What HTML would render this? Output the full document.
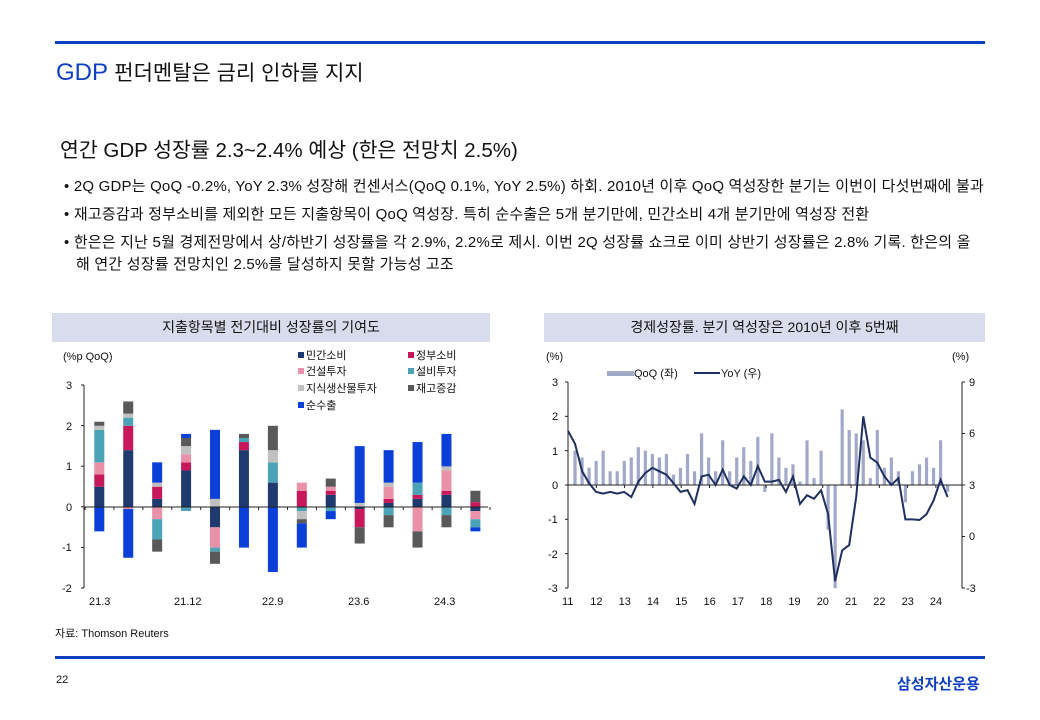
<!DOCTYPE html>
<html><head><meta charset="utf-8"><style>
body{margin:0;width:1040px;height:720px;background:#fff;font-family:"Liberation Sans","Noto Sans CJK KR",sans-serif;position:relative;overflow:hidden;color:#111}
.a{position:absolute;white-space:nowrap}
.hl{position:absolute;left:55px;width:930px;height:3px;background:#1040c0}
.b{font-size:15px;letter-spacing:0.2px}
.ct{position:absolute;top:313px;height:29px;background:#d9dcec;font-size:14px;line-height:29px;text-align:center}
svg text{font-family:"Liberation Sans","Noto Sans CJK KR",sans-serif;font-size:11px;fill:#111}
</style></head><body>
<div class="hl" style="top:41px"></div>
<div class="a" style="left:56px;top:57px;font-size:24px;color:#1040c0">GDP <span style="color:#111;font-size:21px">펀더멘탈은 금리 인하를 지지</span></div>
<div class="a" style="left:60px;top:133px;font-size:20.5px">연간 GDP 성장률 2.3~2.4% 예상 (한은 전망치 2.5%)</div>
<div class="a b" style="left:64px;top:175px">• 2Q GDP는 QoQ -0.2%, YoY 2.3% 성장해 컨센서스(QoQ 0.1%, YoY 2.5%) 하회. 2010년 이후 QoQ 역성장한 분기는 이번이 다섯번째에 불과</div>
<div class="a b" style="left:64px;top:203px">• 재고증감과 정부소비를 제외한 모든 지출항목이 QoQ 역성장. 특히 순수출은 5개 분기만에, 민간소비 4개 분기만에  역성장 전환</div>
<div class="a b" style="left:64px;top:231px">• 한은은 지난 5월 경제전망에서 상/하반기 성장률을 각 2.9%, 2.2%로 제시. 이번 2Q 성장률 쇼크로 이미 상반기 성장률은 2.8% 기록. 한은의 올</div>
<div class="a b" style="left:76px;top:253px">해 연간 성장률 전망치인 2.5%를 달성하지 못할 가능성 고조</div>
<div class="ct" style="left:52px;width:438px">지출항목별 전기대비 성장률의 기여도</div>
<div class="ct" style="left:544px;width:441px">경제성장률. 분기 역성장은 2010년 이후 5번째</div>
<svg id="s" class="a" style="left:0;top:0" width="1040" height="720">
<g id="L"></g><g id="R"></g>
<text x="63" y="360">(%p QoQ)</text>
<text x="66" y="389">3</text><text x="66" y="430">2</text><text x="66" y="470">1</text><text x="66" y="511">0</text><text x="62" y="551">-1</text><text x="62" y="592">-2</text>
<text x="89" y="605">21.3</text><text x="174" y="605">21.12</text><text x="262" y="605">22.9</text><text x="348" y="605">23.6</text><text x="434" y="605">24.3</text>
<rect x="298" y="352" width="6" height="6" fill="#1f3a6e"/><text x="306" y="359">민간소비</text>
<rect x="408" y="352" width="6" height="6" fill="#c8185c"/><text x="416" y="359">정부소비</text>
<rect x="298" y="368" width="6" height="6" fill="#e891a8"/><text x="306" y="375">건설투자</text>
<rect x="408" y="368" width="6" height="6" fill="#4ba3b8"/><text x="416" y="375">설비투자</text>
<rect x="298" y="385" width="6" height="6" fill="#c0c0c0"/><text x="306" y="392">지식생산물투자</text>
<rect x="408" y="385" width="6" height="6" fill="#595959"/><text x="416" y="392">재고증감</text>
<rect x="298" y="402" width="6" height="6" fill="#0a3fd8"/><text x="306" y="409">순수출</text>
<text x="546" y="360">(%)</text><text x="952" y="360">(%)</text>
<rect x="607" y="371" width="27" height="5" fill="#a2a9c8"/><text x="634" y="377">QoQ (좌)</text>
<line x1="694" y1="373" x2="720" y2="373" stroke="#1f3060" stroke-width="2"/><text x="721" y="377">YoY (우)</text>
<text x="552" y="386">3</text><text x="552" y="420">2</text><text x="552" y="455">1</text><text x="552" y="489">0</text><text x="548" y="523">-1</text><text x="548" y="558">-2</text><text x="548" y="592">-3</text>
<text x="969" y="386">9</text><text x="969" y="437">6</text><text x="969" y="489">3</text><text x="969" y="540">0</text><text x="966" y="592">-3</text>
<g id="XL"></g>
</svg>
<div class="a" style="left:55px;top:625px;font-size:11px">자료: Thomson Reuters</div>
<div class="hl" style="top:656px"></div>
<div class="a" style="left:56px;top:674px;font-size:11px">22</div>
<div class="a" style="left:897px;top:673px;font-size:15px;font-weight:bold;color:#1040c0">삼성자산운용</div>
<script>
var ns="http://www.w3.org/2000/svg";
function el(p,t,a){var e=document.createElementNS(ns,t);for(var k in a)e.setAttribute(k,a[k]);p.appendChild(e);return e;}
var L=document.getElementById('L'),R=document.getElementById('R'),XL=document.getElementById('XL');
var col=['#1f3a6e','#c8185c','#e891a8','#4ba3b8','#c0c0c0','#595959','#0a3fd8'];
var D=[[.5,.3,.3,.8,.1,.1,-.6],[1.4,.6,-.05,.2,.1,.3,-1.2],[.2,.3,-.3,-.5,.1,-.3,.5],[.9,.2,.2,-.1,.2,.2,.1],[-.5,0,-.5,-.1,.2,-.3,1.7],[1.4,.2,0,.1,0,.1,-1],[.6,0,0,.5,.3,.6,-1.6],[0,.4,.2,-.1,-.2,-.1,-.6],[.3,.1,.1,-.1,0,.2,-.2],[-.05,-.45,0,0,.1,-.4,1.4],[.1,.1,.3,-.2,.1,-.3,.8],[.2,.1,-.6,.3,0,-.4,1],[.3,.1,.5,-.2,.1,-.3,.8],[-.1,.12,-.2,-.2,0,.28,-.1]];
var u=40.6,z=507;
D.forEach(function(d,i){var x=99.3+28.93*i,p=0,n=0;d.forEach(function(v,k){if(!v)return;if(v>0){el(L,'rect',{x:x-5,y:z-(p+v)*u,width:10,height:v*u,fill:col[k]});p+=v;}else{el(L,'rect',{x:x-5,y:z-n*u,width:10,height:-v*u,fill:col[k]});n+=v;}});});
el(L,'line',{x1:84,y1:385,x2:84,y2:588,stroke:'#222'});
for(var j=0;j<6;j++)el(L,'line',{x1:81,y1:385+j*40.6,x2:84,y2:385+j*40.6,stroke:'#222'});
el(L,'line',{x1:84,y1:z,x2:488,y2:z,stroke:'#222'});
for(var j=0;j<=14;j++)el(L,'line',{x1:85+28.93*j,y1:z,x2:85+28.93*j,y2:z+3,stroke:'#222'});
var Q=[1.0,.8,.5,.7,1.0,.4,.4,.7,.8,1.1,1.0,.9,.8,.9,.3,.5,.9,.4,1.5,.8,.4,1.3,.4,.8,1.1,.7,1.4,-.2,1.5,.8,.5,.6,.1,1.3,.2,1.0,-1.3,-3.0,2.2,1.6,1.5,1.3,.2,1.6,.5,.8,.4,-.5,.4,.6,.8,.5,1.3,-.2];
var Y=[6.16,5.4,3.8,3.1,2.6,2.5,2.6,2.5,2.6,2.3,3.2,3.7,4.0,3.8,3.6,3.1,2.6,2.7,1.9,3.5,3.6,3.0,3.9,3.0,2.8,3.5,3.0,4.1,3.2,3.2,3.3,2.6,3.5,1.9,2.4,2.2,2.7,1.3,-2.6,-.8,-.5,2.3,7.0,4.6,4.3,3.5,3.0,3.4,1.0,1.0,.96,1.3,2.1,3.3,2.3];
var st=7.03,zy=485,uu=34.4;
Q.forEach(function(v,i){var x=568+st*(i+1);el(R,'rect',{x:x-1.6,y:v>0?zy-v*uu:zy,width:3.2,height:Math.abs(v)*uu,fill:'#a2a9c8'});});
el(R,'line',{x1:568,y1:382,x2:568,y2:588,stroke:'#222'});
el(R,'line',{x1:962,y1:382,x2:962,y2:588,stroke:'#222'});
for(var j=0;j<7;j++)el(R,'line',{x1:565,y1:382+j*34.33,x2:568,y2:382+j*34.33,stroke:'#222'});
for(var j=0;j<5;j++)el(R,'line',{x1:962,y1:382+j*51.5,x2:965,y2:382+j*51.5,stroke:'#222'});
el(R,'line',{x1:568,y1:zy,x2:962,y2:zy,stroke:'#222'});
var pts=Y.map(function(v,i){return (568+st*i).toFixed(1)+','+(382+(9-v)*17.17).toFixed(1);}).join(' ');
el(R,'polyline',{points:pts,fill:'none',stroke:'#1f3060','stroke-width':2});
for(var y=0;y<14;y++){var x=568+28.3*y;el(R,'line',{x1:x,y1:zy,x2:x,y2:zy+3,stroke:'#222'});var t=el(XL,'text',{x:x-6,y:605});t.textContent=String(11+y);}
</script>
</body></html>
